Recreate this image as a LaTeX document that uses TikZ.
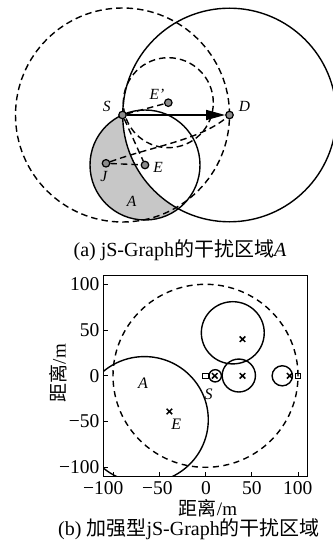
\documentclass[tikz,border=0pt]{standalone}
\usepackage{fontspec}
\setmainfont{Liberation Serif}
\newfontfamily\cjk{Noto Sans CJK SC}
\usetikzlibrary{arrows.meta}
\begin{document}
\begin{tikzpicture}[x=1pt,y=1pt,
  every node/.style={inner sep=0pt},
  mk/.style={circle,draw,fill=black!45,line width=1.2pt,minimum size=7.5pt,inner sep=0pt},
  lbl/.style={font=\fontsize{15.5}{15.5}\selectfont\itshape},
  lblb/.style={font=\fontsize{16}{16}\selectfont\itshape},
  captxt/.style={font=\fontsize{20}{20}\selectfont},
  axlbl/.style={font=\fontsize{19}{19}\selectfont},
  ticklbl/.style={font=\fontsize{19.5}{19.5}\selectfont},
  solidc/.style={line width=1.4pt},
  dashc/.style={line width=1.4pt,dash pattern=on 6.5pt off 4pt},
  dashb/.style={line width=1.4pt,dash pattern=on 6pt off 4.5pt},
  xmark/.style={line width=1.5pt},
  sqmark/.style={line width=1pt}]
\useasboundingbox (0,0) rectangle (332,-540);

% ---------- (a) ----------
\coordinate (s) at (122.5,-115);
\coordinate (d) at (229.5,-115);
\coordinate (ep) at (168.3,-102.7);
\coordinate (e) at (145,-165);
\coordinate (j) at (106,-163.3);

\begin{scope}
  \clip (e) circle (55);
  \fill[black!22, even odd rule] (0,0) rectangle (332,-240) (d) circle (106.8);
\end{scope}

\draw[solidc] (d) circle (106.8);
\draw[dashc] (s) circle (107);
\draw[solidc] (e) circle (55);
\draw[dashc] (ep) circle (45);

\node[mk] (S) at (s) {};
\node[mk] (D) at (d) {};
\node[mk] (Ep) at (ep) {};
\node[mk] (E) at (e) {};
\node[mk] (J) at (j) {};

\draw[dashc] (S) -- (Ep);
\draw[dashc] (S) -- (E);
\draw[dashc] (J) -- (E);
\draw[dashc] (J) .. controls (150,-147) and (200,-140) .. (D);
\draw[solidc,-{Triangle[length=19pt,width=10pt]}] (S) -- (D);

\node[lbl] (lS) at (106.7,-106.7) {S};
\node[lbl] (lEp) at (157,-94.7) {E’};
\node[lbl] (lD) at (244.5,-106.7) {D};
\node[lbl] (lE) at (158,-167.8) {E};
\node[lbl] (lJ) at (103.7,-176.7) {J};
\node[lbl] (lA) at (131.7,-201.7) {A};

\node[captxt] (capa) at (180,-250) {(a) jS-Graph{\cjk 的干扰区域}\textit{A}};

% ---------- (b) ----------
\begin{scope}[shift={(205.5pt,-375.8pt)},x=0.925pt,y=0.915pt]
  \begin{scope}
    \clip (-110,-110) rectangle (110,110);
    \draw[solidc] (-66,-48) circle (69);
  \end{scope}
  \draw[dashb] (0,0) circle (100);
  \draw[solidc] (29.5,47) circle (34);
  \draw[solidc] (36,0.3) circle (18);
  \draw[solidc] (10.5,0) circle (6.7);
  \draw[solidc] (83,0) circle (11);
  \foreach \px/\py in {40/40, 40/0, 10/0, 91/0, -39/-39}
    \draw[xmark] (\px-3,\py-3) -- (\px+3,\py+3) (\px-3,\py+3) -- (\px+3,\py-3);
  \foreach \px in {0,100}
    \draw[sqmark] (\px-2.8,-2.8) rectangle (\px+2.8,2.8);
  \draw[line width=1.3pt] (-110,-110) rectangle (110,110);
  \foreach \v in {-100,-50,0,50,100} {
    \draw[line width=1pt] (-110,\v) -- (-105.6,\v);
    \draw[line width=1pt] (\v,-110) -- (\v,-105.4);
  }
  \node[ticklbl,anchor=east] (yt1) at (-114.5,100) {100};
  \node[ticklbl,anchor=east] (yt2) at (-114.5,50) {50};
  \node[ticklbl,anchor=east] (yt3) at (-114.5,0) {0};
  \node[ticklbl,anchor=east] (yt4) at (-114.5,-50) {−50};
  \node[ticklbl,anchor=east] (yt5) at (-114.5,-100) {−100};
  \node[ticklbl] (xt1) at (-110.5,-122.5) {−100};
  \node[ticklbl] (xt2) at (-52,-122.5) {−50};
  \node[ticklbl] (xt3) at (0.5,-122.5) {0};
  \node[ticklbl] (xt4) at (50,-122.5) {50};
  \node[ticklbl] (xt5) at (99.7,-122.5) {100};
  \node[lblb] (bA) at (-67.6,-8.3) {A};
  \node[lblb] (bS) at (3.5,-19.9) {S};
  \node[lblb] (bE) at (-31.6,-52.5) {E};
\end{scope}
\node[axlbl,rotate=90] (ylab) at (58.3,-373) {{\cjk 距离}/m};
\node[axlbl] (xlab) at (208,-508.5) {{\cjk 距离}/m};
\node[captxt] (capb) at (189,-529.5) {(b) {\cjk 加强型}jS-Graph{\cjk 的干扰区域}};
\end{tikzpicture}
\end{document}
